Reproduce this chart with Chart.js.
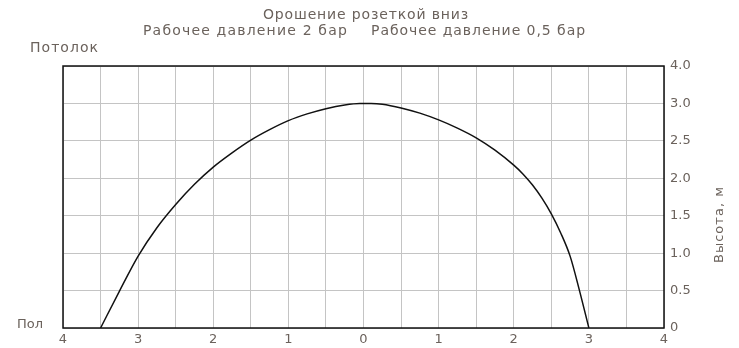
<!DOCTYPE html>
<html>
<head>
<meta charset="utf-8">
<script src="https://cdn.jsdelivr.net/npm/chart.js@4/dist/chart.umd.min.js"></script>
<style>
  html, body { margin: 0; padding: 0; background: #fff; }
  #wrap { width: 739px; height: 348px; }
</style>
</head>
<body>
<div id="wrap"><canvas id="sprayChart"></canvas></div>
<script>
// distance from the sprinkler, m (left = 2 bar, right = 0.5 bar)
const distances = [-3.5, -3.25, -3.0, -2.75, -2.5, -2.25, -2.0, -1.75, -1.5, -1.25, -1.0, -0.75, -0.5, -0.25, -0.05,
                   0.1, 0.25, 0.5, 0.75, 1.0, 1.25, 1.5, 1.75, 2.0, 2.125, 2.25, 2.375, 2.5, 2.625, 2.75, 2.875, 3.0];
// height of the spray, m
const heights = [0, 0.49, 0.96, 1.34, 1.65, 1.92, 2.15, 2.34, 2.51, 2.65, 2.77, 2.86, 2.93, 2.98, 3.0,
                 3.0, 2.99, 2.94, 2.87, 2.78, 2.67, 2.54, 2.375, 2.175, 2.055, 1.91, 1.735, 1.525, 1.27, 0.96, 0.5, 0];
// y tick labels (the top row 3..4 is drawn with the same height as the others)
const yTickLabels = ['0', '0.5', '1.0', '1.5', '2.0', '2.5', '3.0', '4.0'];

const textColor = '#6b625c';
const fontFamily = '"DejaVu Sans", sans-serif';

// draw text stretched with letter spacing to a given width (the original font is wider)
function spacedText(ctx, text, x, y, width) {
    ctx.letterSpacing = '0px';
    const w0 = ctx.measureText(text).width;
    const sp = Math.max(0, (width - w0) / text.length);
    ctx.letterSpacing = sp + 'px';
    ctx.textAlign = 'left';
    ctx.fillText(text, x, y);
}

const labelsPlugin = {
    id: 'sprayLabels',
    afterDraw(chart) {
        const ctx = chart.ctx;
        const area = chart.chartArea;
        ctx.save();
        ctx.fillStyle = textColor;
        ctx.font = '14px ' + fontFamily;
        ctx.textBaseline = 'middle';
        spacedText(ctx, 'Орошение розеткой вниз', 263, 15, 206);
        spacedText(ctx, 'Рабочее давление 2 бар', 143, 31, 205);
        spacedText(ctx, 'Рабочее давление 0,5 бар', 371, 31, 215);
        spacedText(ctx, 'Потолок', 30, 48, 69);
        ctx.font = '13px ' + fontFamily;
        spacedText(ctx, 'Пол', 17, 325, 26);
        // right axis title
        ctx.translate(720, 263);
        ctx.rotate(-Math.PI / 2);
        spacedText(ctx, 'Высота, м', 0, 0, 77);
        ctx.restore();

        // chart frame
        ctx.save();
        ctx.strokeStyle = '#111';
        ctx.lineWidth = 1.5;
        ctx.strokeRect(area.left, area.top, area.right - area.left, area.bottom - area.top);
        ctx.restore();
    }
};

new Chart(document.getElementById('sprayChart'), {
    type: 'scatter',
    data: {
        datasets: [{
            data: distances.map((d, i) => ({ x: d, y: heights[i] })),
            showLine: true,
            borderColor: '#111',
            borderWidth: 1.5,
            pointRadius: 0,
            cubicInterpolationMode: 'monotone'
        }]
    },
    options: {
        responsive: true,
        maintainAspectRatio: false,
        animation: false,
        layout: { padding: { left: 63, top: 66, right: 0, bottom: 0 } },
        plugins: {
            legend: { display: false },
            tooltip: { enabled: false },
            title: { display: false }
        },
        scales: {
            x: {
                type: 'linear',
                min: -4,
                max: 4,
                border: { display: false },
                grid: { color: '#c4c4c4', lineWidth: 1, drawTicks: false },
                ticks: {
                    stepSize: 0.5,
                    color: textColor,
                    font: { family: fontFamily, size: 13 },
                    padding: 4,
                    autoSkip: false,
                    maxRotation: 0,
                    callback: v => Number.isInteger(v) ? String(Math.abs(v)) : ''
                },
                afterFit: s => { s.height = 20; }
            },
            y: {
                type: 'linear',
                position: 'right',
                min: 0,
                max: 3.5,
                border: { display: false },
                grid: { color: '#c4c4c4', lineWidth: 1, drawTicks: false },
                ticks: {
                    stepSize: 0.5,
                    color: textColor,
                    font: { family: fontFamily, size: 13 },
                    padding: 6,
                    callback: (v, i) => yTickLabels[i]
                },
                afterFit: s => { s.width = 75; }
            }
        }
    },
    plugins: [labelsPlugin]
});
</script>
</body>
</html>
